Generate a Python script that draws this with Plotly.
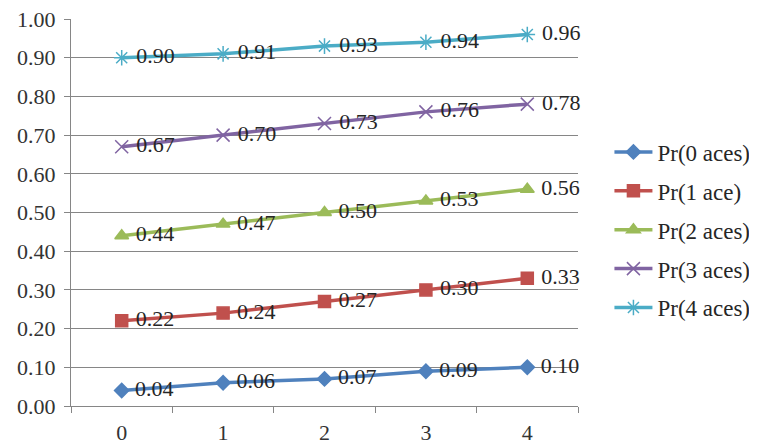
import plotly.graph_objects as go

categories = ["0", "1", "2", "3", "4"]
series_names = ["Pr(0 aces)", "Pr(1 ace)", "Pr(2 aces)", "Pr(3 aces)", "Pr(4 aces)"]
pr0 = [0.04, 0.06, 0.07, 0.09, 0.10]
pr1 = [0.22, 0.24, 0.27, 0.30, 0.33]
pr2 = [0.44, 0.47, 0.50, 0.53, 0.56]
pr3 = [0.67, 0.70, 0.73, 0.76, 0.78]
pr4 = [0.90, 0.91, 0.93, 0.94, 0.96]
y_ticks = [0.0, 0.1, 0.2, 0.3, 0.4, 0.5, 0.6, 0.7, 0.8, 0.9, 1.0]

colors = ["#4F81BD", "#C0504D", "#9BBB59", "#8064A2", "#4BACC6"]
symbols = ["diamond", "square", "triangle-up", "x-thin-open", "asterisk-open"]
sizes = [11, 12, 12, 13, 13]

FONT = "Liberation Serif, Times New Roman, serif"

fig = go.Figure()
for i, (name, vals) in enumerate(zip(series_names, [pr0, pr1, pr2, pr3, pr4])):
    fig.add_trace(go.Scatter(
        x=categories, y=vals, name=name, mode="lines+markers+text",
        line=dict(color=colors[i], width=3.5),
        marker=dict(symbol=symbols[i], size=sizes[i], color=colors[i],
                    line=dict(color=colors[i], width=1.5)),
        text=["\u00a0" + f"{v:.2f}" for v in vals], textposition="middle right",
        textfont=dict(family=FONT, size=22, color="#262626"),
        legendgroup=name,
        cliponaxis=False,
    ))

# page body adds an 8px offset, so the figure is sized 8px smaller
fig.update_layout(
    width=749, height=436,
    margin=dict(l=63, r=179, t=11, b=38, autoexpand=False),
    paper_bgcolor="white", plot_bgcolor="white",
    font=dict(family=FONT, size=22, color="#333333"),
    showlegend=True,
    legend=dict(x=1.062, y=0.712, xanchor="left", yanchor="top",
                font=dict(family=FONT, size=23, color="#262626"),
                itemwidth=38,
                tracegroupgap=6, traceorder="grouped",
                bgcolor="rgba(0,0,0,0)"),
    xaxis=dict(type="category", range=[-0.5, 4.5], showgrid=False,
               showline=True, linecolor="#868686", linewidth=1,
               ticks="outside", tickson="boundaries", ticklen=6,
               automargin=False, ticklabelstandoff=7,
               tickcolor="#868686", tickfont=dict(family=FONT, size=22, color="#333333")),
    yaxis=dict(range=[0, 1], tickvals=y_ticks, tickformat=".2f",
               showgrid=True, gridcolor="#868686", gridwidth=1,
               showline=True, linecolor="#868686", linewidth=1,
               ticks="outside", ticklen=6, tickcolor="#868686",
               zeroline=False, automargin=False, ticklabelstandoff=4,
               ticklabeloverflow="allow",
               tickfont=dict(family=FONT, size=22, color="#333333")),
)

fig.write_html("out.html")
